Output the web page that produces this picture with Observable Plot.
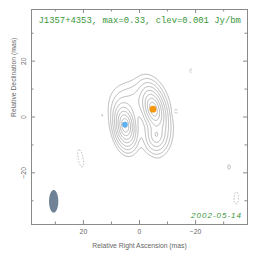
<!DOCTYPE html>
<html><head><meta charset="utf-8">
<script src="https://cdn.jsdelivr.net/npm/d3@7"></script>
<script src="https://cdn.jsdelivr.net/npm/@observablehq/plot@0.6"></script>
<style>html,body{margin:0;padding:0;background:#fff}</style>
</head><body><div id="chart"></div>
<script>
// Source model components (mas, Jy/beam); soft-exponential brightness profiles
const compX    = [5.1, 5.1, -5.0, 1.0, -6.0,
                  13.3, -18.2, -13.0, 21.0, -3.6, -31.9, -34.5];
const compY    = [-3.0, -2.8, 2.8, 5.5, -6.5,
                  0.6, 16.6, 2.0, -14.8, -16.3, -17.9, -29.0];
const compPeak = [0.24, 0.09, 0.25, 0.005, 0.03,
                  -0.0014, -0.0013, -0.002, -0.0015, -0.0013, 0.0014, -0.0015];
const compSx   = [0.85, 0.5, 0.9, 3.5, 1.25,
                  0.5, 0.4, 0.45, 0.9, 0.5, 0.5, 0.8];
const compSy   = [1.75, 0.8, 1.85, 3.0, 1.9,
                  1.0, 1.0, 0.9, 3.2, 0.8, 0.9, 2.2];
const compPA   = [8, 0, 15, 0, 0,
                  0, 0, 0, 10, 0, 0, 0];

// Markers (component positions)
const markX = [5.2, -4.8];
const markY = [-2.7, 2.8];
const markColor = ["#5fb0ee", "#f7970e"];
const markR = [3.3, 4.6];

// Beam (FWHM, mas)
const beamX = [30.6], beamY = [-30.2], beamMaj = [8.1], beamMin = [3.3];

const clev = 0.001;
const posLevels = [1, 2, 4, 8, 16, 32, 64, 128, 256].map(k => k * clev);
const negLevels = [clev];

const majorTicks = [-20, 0, 20];
const minorTicks = [-30, -10, 10, 30];
const title = "J1357+4353, max=0.33, clev=0.001 Jy/bm";
const dateLabel = "2002-05-14";
const xLabel = "Relative Right Ascension (mas)";
const yLabel = "Relative Declination (mas)";

const lim = 38.5;

function model(x, y) {
  let s = 0;
  for (let i = 0; i < compX.length; i++) {
    const dx = x - compX[i], dy = y - compY[i];
    const t = compPA[i] * Math.PI / 180;
    const u = (dx * Math.cos(t) - dy * Math.sin(t)) / compSx[i];
    const v = (dx * Math.sin(t) + dy * Math.cos(t)) / compSy[i];
    s += compPeak[i] * Math.exp(1 - Math.sqrt(1 + u * u + v * v));
  }
  return s;
}
function beam(x, y) {
  const dx = x - beamX[0], dy = y - beamY[0];
  return Math.exp(-4 * Math.LN2 * (dx * dx / beamMin[0] ** 2 + dy * dy / beamMaj[0] ** 2));
}

const fmt = d => d < 0 ? "\u2212" + (-d) : String(d);
const gray = "#8a8a8a";
const green = "#3a963a";
const textGray = "#666";

const chart = Plot.plot({
  width: 264, height: 262,
  marginLeft: 31, marginRight: 17, marginTop: 9, marginBottom: 38,
  x: {domain: [lim, -lim], axis: null},
  y: {domain: [-lim, lim], axis: null},
  style: {fontFamily: "Liberation Sans, Arial, sans-serif", background: "#fff"},
  marks: [
    Plot.contour({x1: lim, x2: -lim, y1: -lim, y2: lim, pixelSize: 0.5,
      value: beam, thresholds: [0.5], fill: "#6f8296", stroke: "none"}),
    Plot.contour({x1: lim, x2: -lim, y1: -lim, y2: lim, pixelSize: 0.5,
      value: model, thresholds: posLevels, fill: "none", stroke: gray, strokeWidth: 0.6}),
    Plot.contour({x1: lim, x2: -lim, y1: -lim, y2: lim, pixelSize: 0.5,
      value: (x, y) => -model(x, y), thresholds: negLevels, fill: "none", stroke: gray,
      strokeWidth: 0.6, strokeDasharray: "1.5,1.5"}),
    Plot.dot(markX.map((x, i) => i), {x: i => markX[i], y: i => markY[i], r: i => markR[i],
      fill: i => markColor[i], stroke: "none"}),
    Plot.frame({stroke: gray, strokeWidth: 1}),
    // inward ticks
    Plot.tickX(majorTicks, {x: d => d, insetTop: 211, stroke: gray}),
    Plot.tickX(majorTicks, {x: d => d, insetBottom: 211, stroke: gray}),
    Plot.tickX(minorTicks, {x: d => d, insetTop: 212.5, stroke: gray}),
    Plot.tickX(minorTicks, {x: d => d, insetBottom: 212.5, stroke: gray}),
    Plot.tickY(majorTicks, {y: d => d, insetRight: 212, stroke: gray}),
    Plot.tickY(majorTicks, {y: d => d, insetLeft: 212, stroke: gray}),
    Plot.tickY(minorTicks, {y: d => d, insetRight: 213.5, stroke: gray}),
    Plot.tickY(minorTicks, {y: d => d, insetLeft: 213.5, stroke: gray}),
    // tick labels
    Plot.text(majorTicks, {x: d => d, text: fmt, frameAnchor: "bottom", dy: 7, lineAnchor: "middle",
      fontSize: 6.8, fill: textGray}),
    Plot.text(majorTicks, {y: d => d, text: fmt, frameAnchor: "left", dx: -7.5, rotate: -90,
      textAnchor: "middle", fontSize: 6.8, fill: textGray}),
    Plot.text([xLabel], {frameAnchor: "bottom", dy: 21, lineAnchor: "middle", fontSize: 6.8, fill: textGray}),
    Plot.text([yLabel], {frameAnchor: "left", dx: -17.5, rotate: -90, fontSize: 6.8, fill: textGray}),
    Plot.text([title], {frameAnchor: "top-left", dx: 7, dy: 11, textAnchor: "start", lineAnchor: "middle",
      fontSize: 8.9, fontFamily: "Liberation Mono, DejaVu Sans Mono, monospace", fill: green}),
    Plot.text([dateLabel], {frameAnchor: "bottom-right", dx: -5.5, dy: -9, textAnchor: "end", lineAnchor: "middle",
      fontSize: 8, fontStyle: "italic", fill: green, className: "datelabel"})
  ]
});
d3.select(chart).selectAll(".datelabel text").style("letter-spacing", "1px");
document.getElementById("chart").appendChild(chart);
</script>
</body></html>
